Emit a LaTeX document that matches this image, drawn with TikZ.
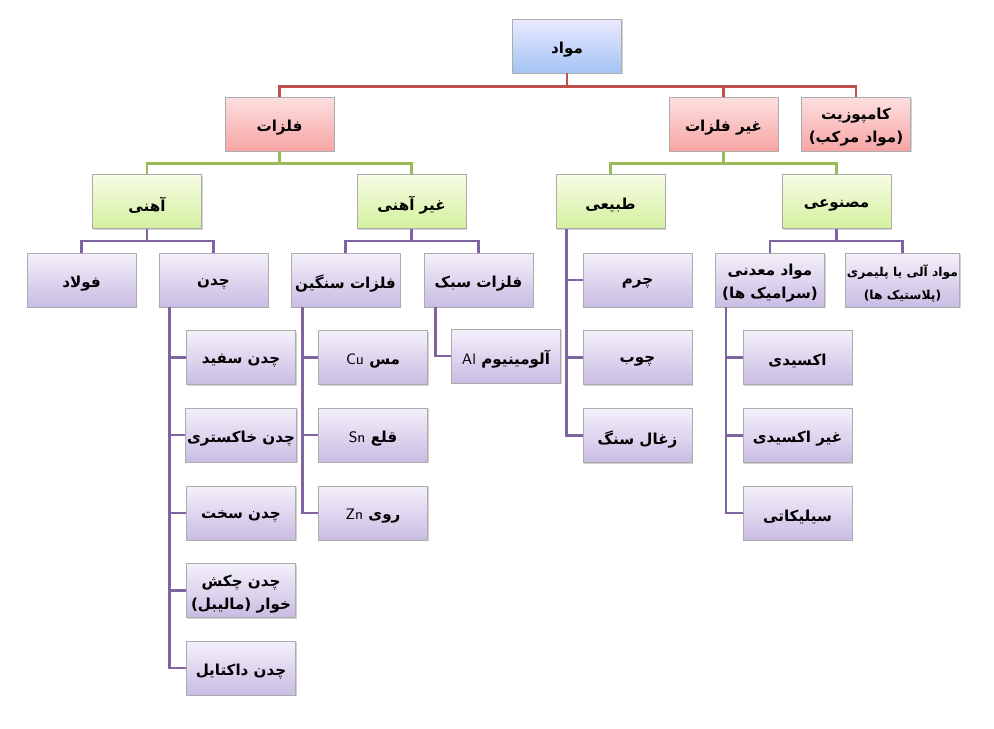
\documentclass[tikz,border=0pt]{standalone}
\usepackage{fontspec}
\TeXXeTstate=1
\newfontfamily\fa[Script=Arabic]{DejaVu Sans}
\usetikzlibrary{shadows}
\newcommand\rl[1]{\raisebox{-2pt}[\height][\depth]{\beginR #1\endR}}
\definecolor{redln}{HTML}{C0504D}
\definecolor{grnln}{HTML}{9BBB59}
\definecolor{purln}{HTML}{8064A2}
\tikzset{
  box/.style={draw=gray!65, line width=0.45pt, minimum width=2.18cm, minimum height=1.08cm,
    inner sep=1pt, align=center, font=\fa\bfseries\fontsize{8.6}{13}\selectfont,
    drop shadow={shadow xshift=0.6pt, shadow yshift=-0.8pt, opacity=0.35}},
  bluebox/.style={box, top color=blue!8!white, bottom color={rgb,255:red,163;green,195;blue,244}},
  redbox/.style={box, top color={rgb,255:red,253;green,224;blue,224}, bottom color={rgb,255:red,247;green,164;blue,164}},
  grnbox/.style={box, top color={rgb,255:red,246;green,252;blue,228}, bottom color={rgb,255:red,212;green,240;blue,158}},
  purbox/.style={box, top color={rgb,255:red,244;green,240;blue,250}, bottom color={rgb,255:red,201;green,188;blue,227}},
  rln/.style={draw=redln, line width=1.3pt},
  gln/.style={draw=grnln, line width=1.3pt},
  pln/.style={draw=purln, line width=1.3pt}
}
\begin{document}
\begin{tikzpicture}[x=0.02cm,y=-0.02cm]
\useasboundingbox (0,0) rectangle (994,728);
% level 0/1
\node[bluebox] (root) at (567,46) {\rl{مواد}};
\node[redbox] (felezat) at (279.5,124) {\rl{فلزات}};
\node[redbox] (ghfelezat) at (723.5,124) {\rl{غیر فلزات}};
\node[redbox] (comp) at (856,124) {\rl{کامپوزیت}\\\rl{(مواد مرکب)}};
% level 2
\node[grnbox] (ahani) at (147,201.5) {\rl{آهنی}};
\node[grnbox] (ghahani) at (411.5,201.5) {\rl{غیر آهنی}};
\node[grnbox] (tabiei) at (610.5,201.5) {\rl{طبیعی}};
\node[grnbox] (masnooi) at (836.5,201.5) {\rl{مصنوعی}};
% level 3
\node[purbox] (foolad) at (81.5,280) {\rl{فولاد}};
\node[purbox] (chodan) at (213.5,280) {\rl{چدن}};
\node[purbox] (sangin) at (345.5,280) {\rl{فلزات سنگین}};
\node[purbox] (sabok) at (478.5,280) {\rl{فلزات سبک}};
\node[purbox] (madani) at (770,280) {\rl{مواد معدنی}\\\rl{(سرامیک ها)}};
\node[purbox] (ali) at (902.5,280) {\fontsize{7}{11}\selectfont\rl{مواد آلی یا پلیمری}\\\fontsize{7}{11}\selectfont\rl{(پلاستیک ها)}};
% chodan children
\node[purbox] (ch1) at (241,357.5) {\rl{چدن سفید}};
\node[purbox] (ch2) at (241,435) {\rl{چدن خاکستری}};
\node[purbox] (ch3) at (241,513) {\rl{چدن سخت}};
\node[purbox] (ch4) at (241,590.5) {\rl{چدن چکش}\\\rl{خوار (مالیبل)}};
\node[purbox] (ch5) at (241,668) {\rl{چدن داکتایل}};
% sangin children
\node[purbox] (cu) at (373,357.5) {\rl{مس \beginL\mdseries\sffamily Cu\endL}};
\node[purbox] (sn) at (373,435) {\rl{قلع \beginL\mdseries\sffamily Sn\endL}};
\node[purbox] (zn) at (373,513) {\rl{روی \beginL\mdseries\sffamily Zn\endL}};
% sabok child
\node[purbox] (al) at (506,356) {\rl{آلومینیوم \beginL\mdseries\sffamily Al\endL}};
% tabiei children
\node[purbox] (charm) at (637.5,280) {\rl{چرم}};
\node[purbox] (choob) at (637.5,357.5) {\rl{چوب}};
\node[purbox] (zoghal) at (637.5,435.5) {\rl{زغال سنگ}};
% madani children
\node[purbox] (ox) at (797.5,357.5) {\rl{اکسیدی}};
\node[purbox] (nox) at (797.5,435.5) {\rl{غیر اکسیدی}};
\node[purbox] (sil) at (797.5,513) {\rl{سیلیکاتی}};

% red bus
\draw[rln] (root.south) -- ++(0,-0.26cm) -| (felezat.north);
\draw[rln] (root.south) -- ++(0,-0.26cm) -| (ghfelezat.north);
\draw[rln] (root.south) -- ++(0,-0.26cm) -| (comp.north);
% green bus
\draw[gln] (felezat.south) -- ++(0,-0.24cm) -| (ahani.north);
\draw[gln] (felezat.south) -- ++(0,-0.24cm) -| (ghahani.north);
\draw[gln] (ghfelezat.south) -- ++(0,-0.24cm) -| (tabiei.north);
\draw[gln] (ghfelezat.south) -- ++(0,-0.24cm) -| (masnooi.north);
% purple bus
\draw[pln] (ahani.south) -- ++(0,-0.24cm) -| (foolad.north);
\draw[pln] (ahani.south) -- ++(0,-0.24cm) -| (chodan.north);
\draw[pln] (ghahani.south) -- ++(0,-0.24cm) -| (sangin.north);
\draw[pln] (ghahani.south) -- ++(0,-0.24cm) -| (sabok.north);
\draw[pln] (masnooi.south) -- ++(0,-0.24cm) -| (madani.north);
\draw[pln] (masnooi.south) -- ++(0,-0.24cm) -| (ali.north);
% side connectors
\foreach \c in {ch1,ch2,ch3,ch4,ch5} \draw[pln] ([xshift=0.22cm]chodan.south west) |- (\c.west);
\foreach \c in {cu,sn,zn} \draw[pln] ([xshift=0.24cm]sangin.south west) |- (\c.west);
\draw[pln] ([xshift=0.24cm]sabok.south west) |- (al.west);
\foreach \c in {charm,choob,zoghal} \draw[pln] ([xshift=0.22cm]tabiei.south west) |- (\c.west);
\foreach \c in {ox,nox,sil} \draw[pln] ([xshift=0.22cm]madani.south west) |- (\c.west);
\end{tikzpicture}
\end{document}
